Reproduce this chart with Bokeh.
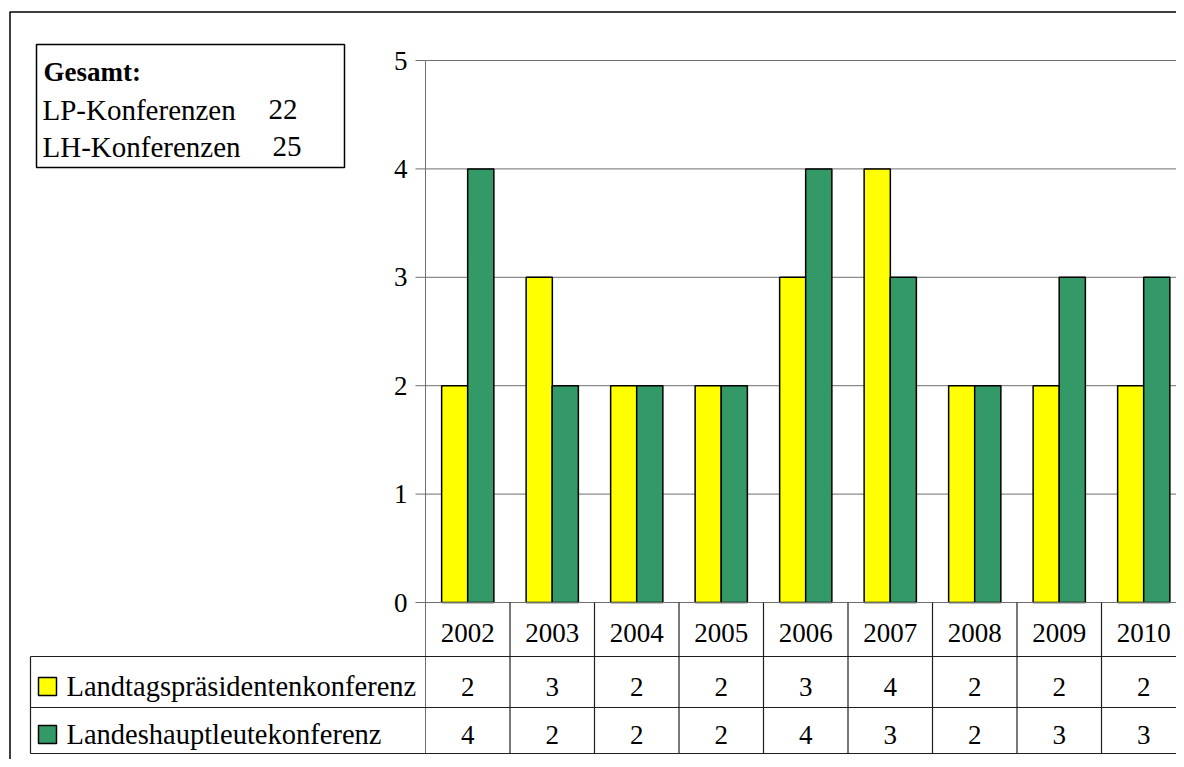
import numpy as np
from bokeh.plotting import figure
from bokeh.models import Range1d
from bokeh.core.properties import value
from bokeh.transform import dodge
from bokeh.embed import file_html
from bokeh.resources import INLINE

# ---- data ----
years = ["2002", "2003", "2004", "2005", "2006", "2007", "2008", "2009", "2010"]
lp_values = [2, 3, 2, 2, 3, 4, 2, 2, 2]   # Landtagspräsidentenkonferenz
lh_values = [4, 2, 2, 2, 4, 3, 2, 3, 3]   # Landeshauptleutekonferenz
series_names = ["Landtagspräsidentenkonferenz", "Landeshauptleutekonferenz"]
series_colors = ["#FFFF00", "#339966"]
y_ticks = [0, 1, 2, 3, 4, 5]
total_title = "Gesamt:"
total_labels = ["LP-Konferenzen", "LH-Konferenzen"]
total_values = ["22", "25"]

FONT = value("Liberation Serif")
FS = "27px"
FS_LONG = "28.5px"
FS_BOX = "29px"

W, H = 1176, 759
# picture pixel geometry
PL, PR, PT, PB = 0, W, 0, H
plot_left_px = 425
cat_w = 84.5
y0_px = 602
unit_px = 108.4

x_start = (PL - plot_left_px) / cat_w
x_end = (PR - plot_left_px) / cat_w
y_start = (y0_px - PB) / unit_px
y_end = (y0_px - PT) / unit_px

p = figure(width=W, height=H, output_backend="svg", toolbar_location=None,
           x_range=Range1d(x_start, x_end), y_range=Range1d(y_start, y_end),
           min_border=0, min_border_left=0, min_border_right=0,
           min_border_top=0, min_border_bottom=0)
p.axis.visible = False
p.grid.visible = False
p.outline_line_color = None
p.background_fill_color = "white"
p.border_fill_color = "white"
p.extra_x_ranges = {"px": Range1d(PL, PR)}
p.extra_y_ranges = {"px": Range1d(PB, PT)}

n = len(years)
xc = np.arange(n) + 0.5
src = dict(x=xc, lp=lp_values, lh=lh_values, year=years,
           lp_s=[str(v) for v in lp_values], lh_s=[str(v) for v in lh_values])

GRID = "#6e6e6e"
TABLE = "#1e1e1e"

# gridlines (horizontal)
p.segment(x0=[0] * len(y_ticks), x1=[n] * len(y_ticks), y0=y_ticks, y1=y_ticks,
          line_color=GRID, line_width=1)
# tick marks
p.segment(x0=[415] * len(y_ticks), x1=[425] * len(y_ticks), y0=y_ticks, y1=y_ticks,
          line_color=GRID, line_width=1, x_range_name="px")
# tick labels
p.text(x=[407] * len(y_ticks), y=y_ticks, text=[str(t) for t in y_ticks],
       x_range_name="px", text_font=FONT, text_font_size=FS,
       text_align="right", text_baseline="middle", text_color="black")

# bars
p.vbar(x=dodge("x", -0.154), top="lp", width=0.31, bottom=0, source=src,
       fill_color=series_colors[0], line_color="black", line_width=1.5)
p.vbar(x=dodge("x", 0.154), top="lh", width=0.31, bottom=0, source=src,
       fill_color=series_colors[1], line_color="black", line_width=1.5)

# y axis line (extends through table)
p.segment(x0=[425], x1=[425], y0=[60], y1=[753], line_color=GRID,
          line_width=1, x_range_name="px", y_range_name="px")
# x axis line
p.segment(x0=[0], x1=[n], y0=[0], y1=[0], line_color=GRID, line_width=1)

# data table lines
row_lines = [656, 707, 753]
p.segment(x0=[30] * 3, x1=[1200] * 3, y0=row_lines, y1=row_lines,
          line_color=TABLE, line_width=1.2, x_range_name="px", y_range_name="px")
p.segment(x0=[30], x1=[30], y0=[656], y1=[753], line_color=TABLE,
          line_width=1.2, x_range_name="px", y_range_name="px")
bounds = list(range(1, n + 1))
p.segment(x0=bounds, x1=bounds, y0=[602] * n, y1=[753] * n,
          line_color=TABLE, line_width=1.2, y_range_name="px")

# table texts
p.text(x="x", y=632, text="year", source=src, y_range_name="px",
       text_font=FONT, text_font_size=FS, text_align="center",
       text_baseline="middle", text_color="black")
p.text(x="x", y=686, text="lp_s", source=src, y_range_name="px",
       text_font=FONT, text_font_size=FS, text_align="center",
       text_baseline="middle", text_color="black")
p.text(x="x", y=734, text="lh_s", source=src, y_range_name="px",
       text_font=FONT, text_font_size=FS, text_align="center",
       text_baseline="middle", text_color="black")

# legend keys in table
p.rect(x=[47, 47], y=[686, 734], width=18, height=18, fill_color=series_colors,
       line_color="black", line_width=1.5, x_range_name="px", y_range_name="px")
p.text(x=[66, 66], y=[686, 734], text=series_names, x_range_name="px",
       y_range_name="px", text_font=FONT, text_font_size=FS_LONG, text_align="left",
       text_baseline="middle", text_color="black")

# totals box
p.quad(left=[36], right=[344], top=[44], bottom=[167], fill_color="white",
       line_color="black", line_width=1.5, x_range_name="px", y_range_name="px")
p.text(x=[43], y=[71], text=[total_title], x_range_name="px", y_range_name="px",
       text_font=FONT, text_font_size="27px", text_font_style="bold",
       text_align="left", text_baseline="middle", text_color="black")
p.text(x=[42, 42], y=[109, 146], text=total_labels, x_range_name="px",
       y_range_name="px", text_font=FONT, text_font_size=FS_BOX,
       text_align="left", text_baseline="middle", text_color="black")
p.text(x=[268, 272], y=[109, 146], text=total_values, x_range_name="px",
       y_range_name="px", text_font=FONT, text_font_size=FS_BOX,
       text_align="left", text_baseline="middle", text_color="black")

# outer chart frame (cropped at right/bottom)
p.quad(left=[9.5], right=[1300], top=[11.5], bottom=[900], fill_color=None,
       line_color="black", line_width=1.5, x_range_name="px", y_range_name="px")

open("out.html", "w").write(file_html(p, INLINE))
